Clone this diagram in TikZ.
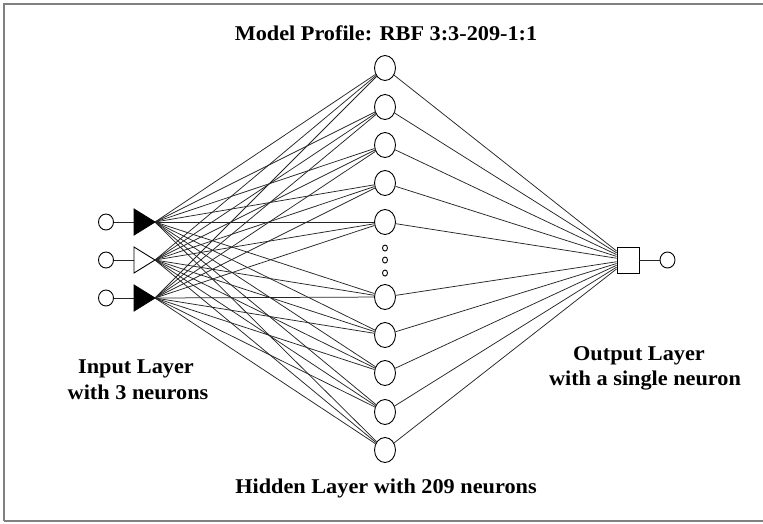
\documentclass[tikz,border=0pt]{standalone}
\usepackage{fontspec}
\setmainfont{Liberation Serif}[FakeStretch=1.06]
\usetikzlibrary{shapes.geometric}
\begin{document}
\begin{tikzpicture}[x=1pt,y=-1pt,
  lbl/.style={font=\bfseries\fontsize{21}{25}\selectfont, anchor=base, inner sep=0pt},
  conn/.style={line width=0.75pt, black!85},
  incirc/.style={draw, ellipse, line width=0.9pt, minimum width=15pt, minimum height=16pt, inner sep=0pt},
  hid/.style={draw, ellipse, line width=0.9pt, minimum width=21pt, minimum height=25pt, inner sep=0pt},
  dotc/.style={draw, ellipse, line width=0.9pt, minimum width=5pt, minimum height=6pt, inner sep=0pt},
  outbox/.style={draw, rectangle, line width=0.9pt, minimum width=22pt, minimum height=26pt, inner sep=0pt},
  tri/.style={line width=0.9pt, draw=black}
]
\useasboundingbox (0,0) rectangle (763,523);
% frame
\draw[gray, line width=1.5pt] (4,521) -- (4,4) -- (763,4);
\draw[gray, line width=1.5pt] (4,521) -- (763,521);

% input neurons
\node[incirc] (i1) at (106,222) {};
\node[incirc] (i2) at (106,260) {};
\node[incirc] (i3) at (106,298) {};
\coordinate (w1) at (134,222); \coordinate (t1) at (155,222);
\coordinate (w2) at (134,260); \coordinate (t2) at (155,260);
\coordinate (w3) at (134,298); \coordinate (t3) at (155,298);
\draw[conn] (i1) -- (w1);
\draw[conn] (i2) -- (w2);
\draw[conn] (i3) -- (w3);
\filldraw[tri, fill=black] (134,209) -- (t1) -- (134,235) -- cycle;
\filldraw[tri, fill=white] (134,247) -- (t2) -- (134,273) -- cycle;
\filldraw[tri, fill=black] (134,285) -- (t3) -- (134,311) -- cycle;

% hidden neurons
\foreach \k/\y in {1/68,2/107,3/145,4/183,5/222,6/297,7/335,8/373,9/412,10/450}{
  \node[hid] (h\k) at (385,\y) {};
}
\node[dotc] (d1) at (385,248) {};
\node[dotc] (d2) at (385,260) {};
\node[dotc] (d3) at (385,273) {};

% output
\node[outbox] (o) at (628,260) {};
\node[incirc] (oc) at (667.5,260) {};
\draw[conn] (o) -- (oc);

% connections
\foreach \k in {1,...,10}{
  \foreach \t in {t1,t2,t3}{
    \draw[conn] (\t) -- (h\k);
  }
  \draw[conn] (h\k) -- (o);
}

% labels
\node[lbl] (title) at (386,40) {Model Profile: RBF 3:3-209-1:1};
\node[lbl] (inl1) at (136,373) {Input Layer};
\node[lbl] (inl2) at (138,399) {with 3 neurons};
\node[lbl] (outl1) at (639,360) {Output Layer};
\node[lbl] (outl2) at (645,385) {with a single neuron};
\node[lbl] (hidl) at (386,493) {Hidden Layer with 209 neurons};
\end{tikzpicture}
\end{document}
